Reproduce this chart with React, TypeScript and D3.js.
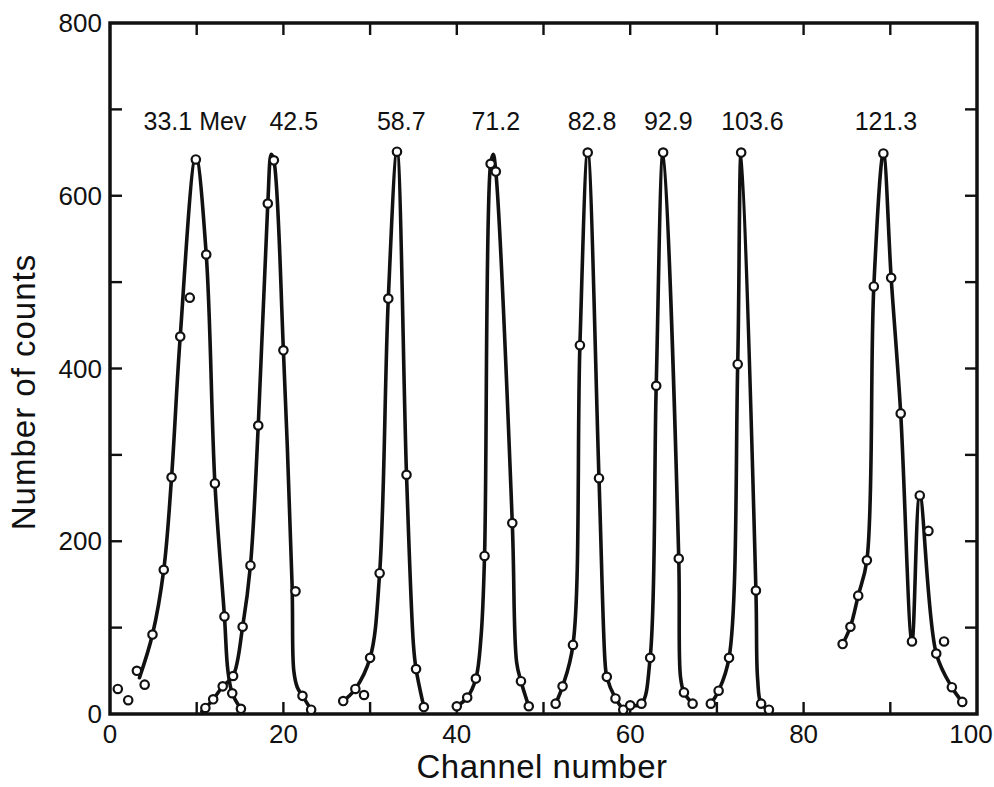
import React from 'react';
import * as d3 from 'd3';

// measured points [channel, counts]
const peak1Points = [[0.9, 29], [2.1, 16], [3.1, 50], [4.0, 34], [4.9, 92], [6.2, 167], [7.1, 274], [8.1, 437], [9.2, 482], [9.9, 642], [11.1, 532], [12.1, 267], [13.2, 113], [14.1, 24], [15.1, 6]];
const peak2Points = [[11.0, 7], [11.9, 17], [13.0, 32], [14.2, 44], [15.3, 101], [16.2, 172], [17.1, 334], [18.2, 591], [18.9, 641], [20.0, 421], [21.4, 142], [22.2, 21], [23.2, 5]];
const peak3Points = [[26.9, 15], [28.3, 29], [29.3, 22], [30.0, 65], [31.1, 163], [32.1, 481], [33.1, 651], [34.2, 277], [35.3, 52], [36.2, 8]];
const peak4Points = [[40.0, 9], [41.2, 19], [42.2, 41], [43.2, 183], [43.9, 637], [44.5, 628], [46.4, 221], [47.4, 38], [48.3, 9]];
const peak5Points = [[51.4, 12], [52.2, 32], [53.4, 80], [54.2, 427], [55.1, 650], [56.4, 273], [57.3, 43], [58.3, 18], [59.2, 5]];
const peak6Points = [[60.0, 10], [61.3, 12], [62.3, 65], [63.0, 380], [63.8, 650], [65.6, 180], [66.2, 25], [67.2, 12]];
const peak7Points = [[69.3, 12], [70.2, 27], [71.4, 65], [72.4, 405], [72.8, 650], [74.5, 143], [75.1, 12], [76.0, 5]];
const peak8Points = [[84.5, 81], [85.4, 101], [86.3, 137], [87.3, 178], [88.1, 495], [89.2, 649], [90.1, 505], [91.2, 348], [92.5, 84], [93.4, 253], [94.4, 212], [95.3, 70], [96.2, 84], [97.1, 31], [98.3, 14]];

// hand drawn curves through the points
const peak1Curve = [[3.4, 42], [4.9, 92], [6.2, 167], [7.1, 274], [8.1, 437], [9.9, 645], [11.1, 532], [12.1, 267], [13.2, 113], [13.6, 50], [14.1, 24], [15.1, 6]];
const peak2Curve = [[10.6, 3], [11.0, 7], [11.9, 17], [13.0, 32], [14.2, 44], [15.3, 101], [16.2, 172], [17.1, 334], [18.2, 591], [18.6, 648], [18.9, 641], [20.0, 421], [21.0, 150], [21.2, 50], [21.6, 31], [22.2, 21], [23.2, 5]];
const peak3Curve = [[26.9, 15], [28.3, 29], [30.0, 65], [31.1, 163], [32.1, 481], [33.1, 651], [34.2, 277], [35.0, 80], [35.3, 52], [36.2, 8]];
const peak4Curve = [[40.0, 9], [41.2, 19], [42.2, 41], [42.8, 90], [43.2, 183], [43.9, 637], [44.2, 648], [44.5, 628], [46.4, 221], [46.9, 60], [47.4, 38], [48.3, 9]];
const peak5Curve = [[51.4, 12], [52.2, 32], [53.4, 80], [54.2, 427], [55.1, 650], [56.4, 273], [57.1, 60], [57.3, 43], [58.3, 18], [59.2, 5]];
const peak6Curve = [[60.0, 10], [61.3, 12], [62.3, 65], [63.0, 380], [63.8, 650], [65.6, 180], [65.8, 43], [66.2, 25], [67.2, 12]];
const peak7Curve = [[69.3, 12], [70.2, 27], [71.4, 65], [72.4, 405], [72.8, 650], [74.5, 143], [74.7, 40], [75.1, 12], [76.0, 5]];
const peak8Curve = [[84.5, 81], [85.4, 101], [86.3, 137], [87.3, 178], [88.1, 495], [89.2, 649], [90.1, 505], [91.2, 348], [92.5, 84], [93.4, 253], [95.3, 70], [97.1, 31], [98.3, 14]];

const peakLabels = ['33.1 Mev', '42.5', '58.7', '71.2', '82.8', '92.9', '103.6', '121.3'];
const labelChannels = [9.8, 21.2, 33.6, 44.5, 55.6, 64.4, 74.1, 89.5];
const labelCounts = 676;

const xTickLabels = [0, 20, 40, 60, 80, 100];
const yTickLabels = [0, 200, 400, 600, 800];

const W = 994;
const H = 787;
const FONT = '"Liberation Sans", Arial, sans-serif';
const INK = '#111';

export default function App() {
  const x = d3.scaleLinear().domain([0, 100]).range([110, 977]);
  const y = d3.scaleLinear().domain([0, 800]).range([714, 23]);

  const line = d3.line<number[]>()
    .x(d => x(d[0]))
    .y(d => y(d[1]))
    .curve(d3.curveCatmullRom.alpha(0.5));

  const curves = [peak1Curve, peak2Curve, peak3Curve, peak4Curve, peak5Curve, peak6Curve, peak7Curve, peak8Curve];
  const points = [peak1Points, peak2Points, peak3Points, peak4Points, peak5Points, peak6Points, peak7Points, peak8Points].flat();

  const xMinor = d3.range(10, 100, 10);
  const yMinor = d3.range(100, 800, 100);
  const tickLen = 12;

  return (
    <svg width={W} height={H} style={{ position: 'absolute', left: 0, top: 0, background: '#fff' }}>
      {/* frame */}
      <rect x={x(0)} y={y(800)} width={x(100) - x(0)} height={y(0) - y(800)}
        fill="none" stroke={INK} strokeWidth={3.5} />

      {/* ticks, all pointing inward */}
      {xMinor.map(v => (
        <g key={'xt' + v} stroke={INK} strokeWidth={2.4}>
          <line x1={x(v)} x2={x(v)} y1={y(0)} y2={y(0) - tickLen} />
          <line x1={x(v)} x2={x(v)} y1={y(800)} y2={y(800) + tickLen} />
        </g>
      ))}
      {yMinor.map(v => (
        <g key={'yt' + v} stroke={INK} strokeWidth={2.4}>
          <line x1={x(0)} x2={x(0) + tickLen} y1={y(v)} y2={y(v)} />
          <line x1={x(100)} x2={x(100) - tickLen} y1={y(v)} y2={y(v)} />
        </g>
      ))}

      {/* tick labels */}
      {xTickLabels.map(v => (
        <text key={'xl' + v} x={x(v)} y={743} dx={v === 100 ? -6 : 0} textAnchor="middle"
          fontFamily={FONT} fontSize={26} fill={INK}>{v}</text>
      ))}
      {yTickLabels.map(v => (
        <text key={'yl' + v} x={x(0) - 8} y={y(v)} textAnchor="end" dominantBaseline="central"
          fontFamily={FONT} fontSize={26} fill={INK}>{v}</text>
      ))}

      {/* axis titles */}
      <text x={542} y={778} textAnchor="middle" fontFamily={FONT} fontSize={33} letterSpacing={0.5} fill={INK}>
        Channel number
      </text>
      <text transform="translate(35,392) rotate(-90)" textAnchor="middle" fontFamily={FONT}
        fontSize={33} letterSpacing={1} fill={INK}>
        Number of counts
      </text>

      {/* peak energy labels */}
      {peakLabels.map((t, i) => (
        <text key={t} x={x(labelChannels[i])} y={y(labelCounts)} textAnchor="middle"
          fontFamily={FONT} fontSize={25} fill={INK}>{t}</text>
      ))}

      {/* curves */}
      {curves.map((c, i) => (
        <path key={'c' + i} d={line(c) || ''} fill="none" stroke={INK}
          strokeWidth={3.6} strokeLinejoin="round" strokeLinecap="round" />
      ))}

      {/* data points */}
      {points.map((p, i) => (
        <circle key={'p' + i} cx={x(p[0])} cy={y(p[1])} r={4.2}
          fill="#fff" stroke={INK} strokeWidth={2.2} />
      ))}
    </svg>
  );
}
